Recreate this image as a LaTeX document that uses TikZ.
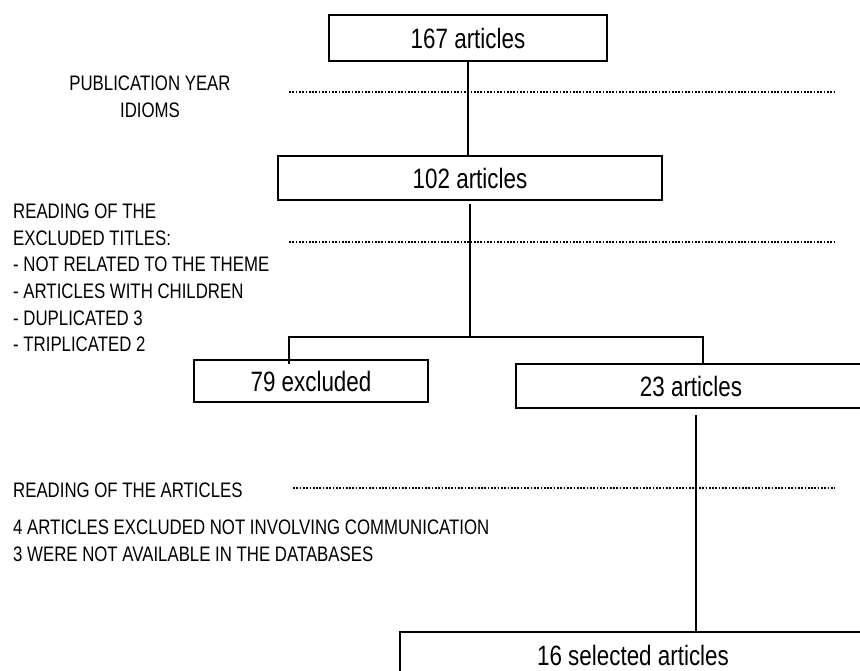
\documentclass[tikz,border=0pt]{standalone}
\usepackage{fontspec}
\setmainfont[FakeStretch=0.8]{Liberation Sans}
\begin{document}
\begin{tikzpicture}[
    x=1pt, y=-1pt,
    box/.style={draw, line width=2pt, inner sep=0pt, font=\fontsize{28}{30}\selectfont},
    note/.style={inner sep=0pt, align=left, font=\fontsize{21}{26.7}\selectfont},
    link/.style={line width=1.8pt},
    sep/.style={line width=1.7pt, dash pattern=on 1.7pt off 1.6pt}
]
\clip (0,0) rectangle (860,671);
\node[box, minimum width=278pt, minimum height=46pt] (n167) at (468,38) {167 articles};
\node[box, minimum width=384pt, minimum height=44pt] (n102) at (470,178) {102 articles};
\node[box, minimum width=234pt, minimum height=42pt] (excl) at (311,381) {79 excluded};
\node[box, minimum width=350pt, minimum height=44pt] (n23) at (691,386) {23 articles};
\node[box, minimum width=466pt, minimum height=46pt] (sel) at (633,655) {16 selected articles};

\node[note, align=center] (year) at (150,97) {PUBLICATION YEAR\\IDIOMS};
\node[note, anchor=west] (titles) at (13,278) {READING OF THE\\EXCLUDED TITLES:\\- NOT RELATED TO THE THEME\\- ARTICLES WITH CHILDREN\\- DUPLICATED 3\\- TRIPLICATED 2};
\node[note, anchor=west] (reading) at (13,490) {READING OF THE ARTICLES};
\node[note, anchor=west] (reasons) at (13,541) {4 ARTICLES EXCLUDED NOT INVOLVING COMMUNICATION\\3 WERE NOT AVAILABLE IN THE DATABASES};

\coordinate (d1a) at (289,92);
\coordinate (d1b) at (835,92);
\coordinate (d2a) at (289,242);
\coordinate (d2b) at (835,242);
\coordinate (d3a) at (293,488);
\coordinate (d3b) at (835,488);
\coordinate (split) at (468,337);

\draw[sep] (d1a) -- (d1b);
\draw[sep] (d2a) -- (d2b);
\draw[sep] (d3a) -- (d3b);

\draw[link] (n167.south) -- (n167.south |- n102.north);
\draw[link] ([yshift=-3pt]n102.south) -- (n102.south |- split);
\draw[link] ([xshift=-22pt, yshift=-5pt]excl.north) |- ([xshift=12pt]n23.north |- split) -- ([xshift=12pt]n23.north);
\draw[link] ([xshift=5pt, yshift=-6pt]n23.south) -- ([xshift=5pt]n23.south |- sel.north);
\end{tikzpicture}
\end{document}
